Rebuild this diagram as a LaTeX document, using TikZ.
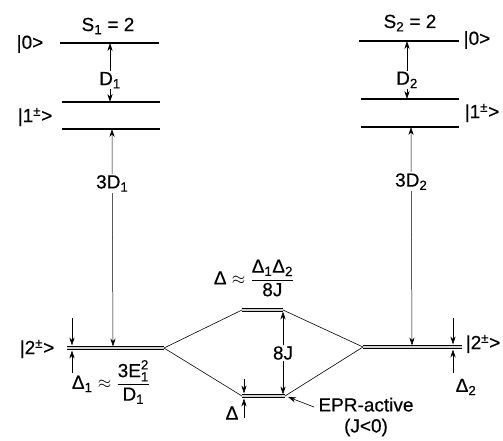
\documentclass[tikz,border=0pt]{standalone}
\usepackage{amsmath}
\usepackage{fontspec}
\setmainfont[FakeBold=0.4]{Liberation Sans}
\usetikzlibrary{arrows.meta}

\begin{document}
\begin{tikzpicture}[
    x=1pt, y=-1pt,
    every node/.style = {font=\fontsize{19}{21}\selectfont, inner sep=1pt},
    level/.style   = {line width=1.3pt},
    dlevel/.style  = {line width=1.1pt, double=gray!35, double distance=1.3pt},
    link/.style    = {line width=0.6pt},
    lab/.style     = {fill=white},
    arr/.style     = {-{Stealth[length=2.8mm, width=1.8mm]}, line width=0.5pt},
    dblarr/.style  = {{Stealth[length=2.8mm, width=1.8mm]}-{Stealth[length=2.8mm, width=1.8mm]}, line width=0.5pt}
]
\useasboundingbox (0,0) rectangle (503,440);
% levels of ion 1
\coordinate (A0w)  at (60,43);   \coordinate (A0e)  at (159,43);
\coordinate (A1uw) at (62,102);  \coordinate (A1ue) at (160,102);
\coordinate (A1lw) at (62,129);  \coordinate (A1le) at (160,129);
\coordinate (A2w)  at (67,348);  \coordinate (A2e)  at (164,348);
% levels of ion 2
\coordinate (B0w)  at (359,41);  \coordinate (B0e)  at (459,41);
\coordinate (B1uw) at (361,99);  \coordinate (B1ue) at (459,99);
\coordinate (B1lw) at (361,127); \coordinate (B1le) at (459,127);
\coordinate (B2w)  at (363,347); \coordinate (B2e)  at (462,347);
% coupled pair
\coordinate (Cuw) at (242,310);  \coordinate (Cue) at (283,310);
\coordinate (Clw) at (242,396);  \coordinate (Cle) at (285,396);

\foreach \a/\b in {A0w/A0e, A1uw/A1ue, A1lw/A1le, B0w/B0e, B1uw/B1ue, B1lw/B1le}
  \draw[level] (\a) -- (\b);
\foreach \a/\b in {A2e/Cuw, A2e/Clw, B2w/Cue, B2w/Cle}
  \draw[link] (\a) -- (\b);
\foreach \a/\b in {A2w/A2e, B2w/B2e, Cuw/Cue, Clw/Cle}
  \draw[dlevel] (\a) -- (\b);

% level labels
\node (lA0)  at (30,44)  {|0>};
\node (lA1)  at (35,117) {|1\textsuperscript{±}>};
\node (lA2)  at (37,349) {|2\textsuperscript{±}>};
\node (lB0)  at (477,40) {|0>};
\node (lB1)  at (482,113) {|1\textsuperscript{±}>};
\node (lB2)  at (483,344) {|2\textsuperscript{±}>};
\node (lS1)  at (108,26) {S\textsubscript{1} = 2};
\node (lS2)  at (410,23) {S\textsubscript{2} = 2};

% splittings, ion 1
\coordinate (pA0)  at (110,43);
\coordinate (pA1u) at (110,102);
\coordinate (pA1l) at (112,129);
\coordinate (pA2)  at (113,346.5);
\draw[dblarr] (pA1u) -- node[lab, pos=0.37] (lD1) {D\textsubscript{1}} (pA0);
\draw[dblarr] (pA1l) -- node[lab, pos=0.25] (l3D1) {3D\textsubscript{1}} (pA2);
\coordinate (qA2t) at (72,318);  \coordinate (qA2u) at (72,345.5);
\coordinate (qA2b) at (72,373);  \coordinate (qA2d) at (72,350.5);
\draw[arr] (qA2t) -- (qA2u);
\draw[arr] (qA2b) -- (qA2d);
\node (lDel1) at (111,382)
  {Δ\textsubscript{1} $\approx$ $\dfrac{\text{3E}^{\text{2}}_{\text{1}}}{\text{D}_{\text{1}}}$};

% splittings, ion 2
\coordinate (pB0)  at (407,41);
\coordinate (pB1u) at (407,99);
\coordinate (pB1l) at (411,127);
\coordinate (pB2)  at (412,345.5);
\draw[dblarr] (pB1u) -- node[lab, pos=0.33] (lD2) {D\textsubscript{2}} (pB0);
\draw[dblarr] (pB1l) -- node[lab, pos=0.25] (l3D2) {3D\textsubscript{2}} (pB2);
\coordinate (qB2t) at (453,318);  \coordinate (qB2u) at (453,344.5);
\coordinate (qB2b) at (453,373);  \coordinate (qB2d) at (453,349.5);
\draw[arr] (qB2t) -- (qB2u);
\draw[arr] (qB2b) -- (qB2d);
\node (lDel2) at (466,387) {Δ\textsubscript{2}};

% exchange splitting
\coordinate (pCu) at (283,311.5);
\coordinate (pCl) at (283,394.5);
\draw[dblarr] (pCu) -- node[lab] (l8J) {8J} (pCl);
\coordinate (qCt) at (244,379);  \coordinate (qCu) at (244,393.5);
\coordinate (qCb) at (244,418);  \coordinate (qCd) at (244,398.5);
\draw[arr] (qCt) -- (qCu);
\draw[arr] (qCb) -- (qCd);
\node (lDel) at (232,413) {Δ};
\node (lDelC) at (254,278)
  {Δ $\approx$ $\dfrac{\text{Δ}_{\text{1}}\text{Δ}_{\text{2}}}{\text{8J}}$};
\node[align=center] (lEPR) at (366,417) {EPR-active\\(J<0)};
\coordinate (eprT) at (314,407);
\coordinate (eprH) at (288,397);
\draw[arr, line width=0.6pt] (eprT) -- (eprH);
\end{tikzpicture}
\end{document}
